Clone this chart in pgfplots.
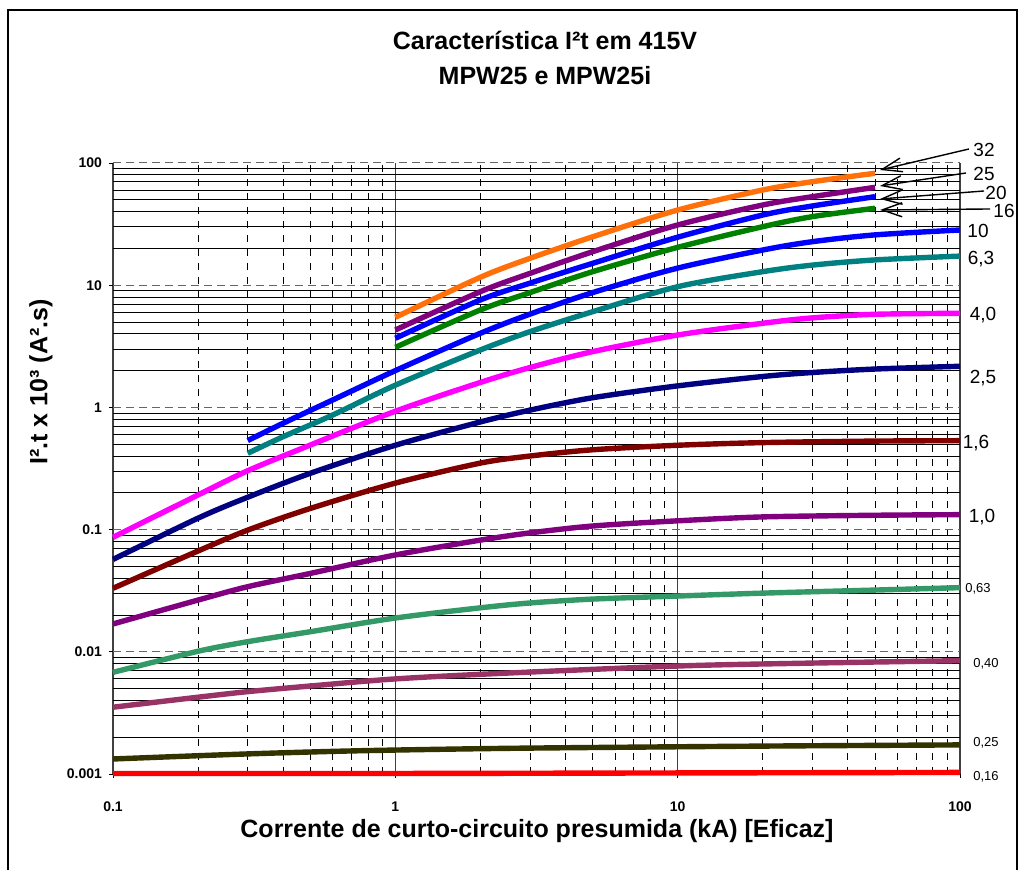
\documentclass[border=0pt]{standalone}
\usepackage{pgfplots}
\pgfplotsset{compat=1.18}
\usepackage{fontspec}
\setmainfont{Liberation Sans}
\usetikzlibrary{arrows.meta}
\definecolor{c32}{RGB}{255,112,10}
\definecolor{c25}{RGB}{128,0,128}
\definecolor{c20}{RGB}{0,0,255}
\definecolor{c16}{RGB}{0,128,0}
\definecolor{c10}{RGB}{0,0,255}
\definecolor{c63}{RGB}{0,128,128}
\definecolor{c40}{RGB}{255,0,255}
\definecolor{cTwoFive}{RGB}{0,0,128}
\definecolor{cOneSix}{RGB}{128,0,0}
\definecolor{cOne}{RGB}{128,0,128}
\definecolor{c063}{RGB}{51,153,102}
\definecolor{c040}{RGB}{153,51,102}
\definecolor{c025}{RGB}{51,51,0}
\definecolor{c016}{RGB}{255,0,0}
\begin{document}
\begin{tikzpicture}
\useasboundingbox (0,0) rectangle (513.5pt,435pt);
\begin{axis}[
  at={(56.5pt,48pt)}, anchor=south west,
  scale only axis, width=423.5pt, height=305.5pt,
  xmode=log, ymode=log,
  xmin=0.1, xmax=100, ymin=0.001, ymax=100,
  clip=false,
  axis line style={draw=none},
  xtick={0.1,1,10,100},
  xticklabels={\textbf{0.1},\textbf{1},\textbf{10},\textbf{100}},
  ytick={0.001,0.01,0.1,1,10,100},
  yticklabels={\textbf{0.001},\textbf{0.01},\textbf{0.1},\textbf{1},\textbf{10},\textbf{100}},
  minor xtick={0.2,0.3,0.4,0.5,0.6,0.7,0.8,0.9,2,3,4,5,6,7,8,9,20,30,40,50,60,70,80,90},
  minor ytick={0.002,0.003,0.004,0.005,0.006,0.007,0.008,0.009,0.02,0.03,0.04,0.05,0.06,0.07,0.08,0.09,0.2,0.3,0.4,0.5,0.6,0.7,0.8,0.9,2,3,4,5,6,7,8,9,20,30,40,50,60,70,80,90},
  xmajorgrids, xminorgrids, ymajorgrids, yminorgrids,
  major x grid style={black!75, line width=0.6pt},
  minor x grid style={black, line width=0.45pt, dash pattern=on 3.5pt off 3.5pt},
  major y grid style={black!60, line width=0.5pt, dash pattern=on 4pt off 2.5pt},
  minor y grid style={black, line width=0.45pt},
  tick pos=left, tick align=outside,
  major tick length=2pt, minor tick length=0pt,
  every tick/.style={black, line width=0.4pt},
  ticklabel style={font=\fontsize{7}{8}\selectfont},
  xticklabel style={yshift=-8.3pt},
  title={Característica I²t em 415V\\MPW25 e MPW25i},
  title style={at={(rel axis cs:0.51,1.152)}, anchor=center, yshift=0pt, align=center, font=\fontsize{12.5}{17.5}\selectfont\bfseries},
  xlabel={Corrente de curto-circuito presumida (kA) [Eficaz]},
  xlabel style={at={(rel axis cs:0.5006,-0.0933)}, anchor=center, font=\fontsize{12.5}{14}\selectfont\bfseries},
  ylabel={I².t x 10³ (A².s)},
  ylabel style={at={(rel axis cs:-0.085,0.6416)}, anchor=center, rotate=0, font=\fontsize{12.5}{14}\selectfont\bfseries},
  every axis plot/.append style={line width=2.7pt, smooth, no markers},
]
% 0,16
\addplot[c016] coordinates {(0.1,0.00101) (1,0.00101) (10,0.00102) (100,0.00103)};
% 0,25
\addplot[c025] coordinates {(0.1,0.001327) (0.3,0.00146) (0.75,0.00155) (2.4,0.00162) (10,0.00167) (27,0.0017) (100,0.00173)};
% 0,40
\addplot[c040] coordinates {(0.1,0.00352) (0.2,0.00425) (0.3,0.00472) (0.5,0.00525) (1,0.0060) (2.4,0.00667) (10,0.00765) (27,0.00805) (100,0.00846)};
% 0,63
\addplot[c063] coordinates {(0.1,0.00679) (0.2,0.0101) (0.3,0.0121) (0.5,0.0146) (1,0.0189) (2,0.0229) (3,0.0251) (5,0.027) (10,0.0286) (20,0.0302) (50,0.032) (100,0.0335)};
% 1,0
\addplot[cOne] coordinates {(0.1,0.0169) (0.2,0.0265) (0.3,0.0341) (0.5,0.0438) (1,0.062) (2,0.082) (3,0.094) (5,0.107) (10,0.118) (20,0.127) (50,0.131) (100,0.1325)};
% 1,6
\addplot[cOneSix] coordinates {(0.1,0.0331) (0.2,0.0668) (0.3,0.099) (0.5,0.149) (1,0.24) (2,0.35) (3,0.40) (5,0.45) (10,0.49) (20,0.515) (50,0.53) (100,0.534)};
% 2,5
\addplot[cTwoFive] coordinates {(0.1,0.057) (0.2,0.124) (0.3,0.184) (0.5,0.289) (1,0.49) (2,0.76) (3,0.95) (5,1.2) (10,1.5) (20,1.79) (30,1.93) (50,2.06) (100,2.17)};
% 4,0
\addplot[c40] coordinates {(0.1,0.0865) (0.2,0.192) (0.3,0.303) (0.5,0.492) (1,0.93) (2,1.6) (3,2.12) (5,2.86) (10,3.91) (20,4.88) (30,5.4) (50,5.78) (100,5.89)};
% 6,3
\addplot[c63] coordinates {(0.3,0.421) (0.4,0.575) (0.6,0.866) (1,1.52) (2,2.95) (3,4.17) (5,6.07) (10,9.72) (20,12.9) (30,14.6) (50,16.1) (100,17.3)};
% 10
\addplot[c10] coordinates {(0.3,0.535) (0.4,0.741) (0.6,1.15) (1,2.0) (2,4.04) (3,5.8) (5,8.7) (10,13.8) (20,19.4) (30,22.7) (50,25.8) (100,28.3)};
% 16
\addplot[c16] coordinates {(1,3.10) (2,6.27) (3,8.7) (5,12.9) (10,20.4) (20,30.1) (30,36.4) (50,42.6)};
% 20
\addplot[c20] coordinates {(1,3.68) (2,7.57) (3,10.4) (5,15.1) (10,24.7) (20,37.5) (30,44.5) (50,53)};
% 25
\addplot[c25] coordinates {(1,4.30) (2,8.85) (3,12.5) (5,18.8) (10,31.1) (20,45.3) (30,53) (50,63.2)};
% 32
\addplot[c32] coordinates {(1,5.46) (2,11.6) (3,16.6) (5,24.9) (10,41.2) (20,60.1) (30,70.3) (50,82.4)};
\end{axis}
\begin{scope}[x=0.5pt,y=-0.5pt,yshift=435pt]
  \draw[line width=0.8pt] (8,880) -- (8,10) -- (1017,10) -- (1017,880);
  \begin{scope}[font=\fontsize{9.5}{10}\selectfont]
    \node at (984,150) {32};
    \node at (984,174) {25};
    \node at (996,193) {20};
    \node at (1004,211) {16};
    \node at (978,231) {10};
    \node at (981,259) {6,3};
    \node at (983,315) {4,0};
    \node at (983,378) {2,5};
    \node at (976,443) {1,6};
    \node at (982,517) {1,0};
  \end{scope}
  \begin{scope}[font=\fontsize{6.5}{7}\selectfont]
    \node at (978,589) {0,63};
    \node at (986,664) {0,40};
    \node at (986,743) {0,25};
    \node at (986,777) {0,16};
  \end{scope}
  \begin{scope}[line width=0.7pt, -{Straight Barb[length=10pt,width=7pt]}]
    \draw (969,149) -- (880,170);
    \draw (966,173) -- (880,186);
    \draw (984,191) -- (880,199);
    \draw (990,209) -- (880,210);
  \end{scope}
\end{scope}
\end{tikzpicture}
\end{document}
